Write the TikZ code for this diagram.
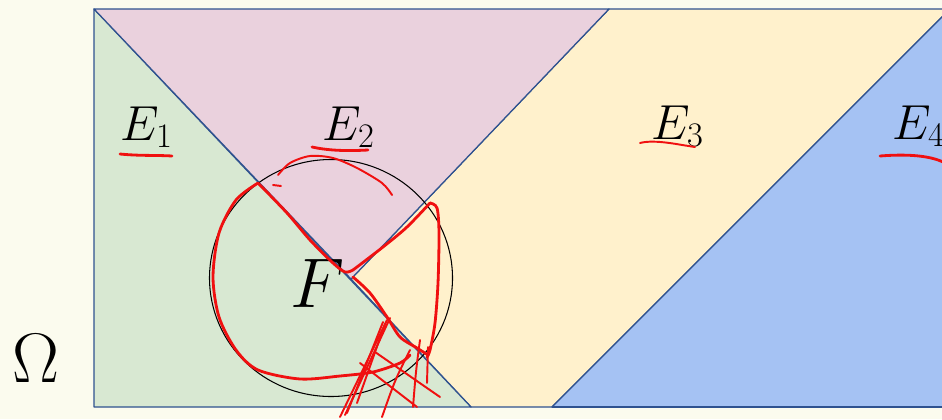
\RequirePackage{fix-cm}
\documentclass[tikz,border=0pt]{standalone}
\usepackage{tikz}
\usetikzlibrary{positioning}
\definecolor{slidebg}{HTML}{FBFBEE}
\definecolor{edgeblue}{HTML}{2F528F}
\definecolor{regiongreen}{HTML}{D8E8D2}
\definecolor{regionpink}{HTML}{EAD1DD}
\definecolor{regionyellow}{HTML}{FFF1CC}
\definecolor{regionblue}{HTML}{A5C2F3}
\definecolor{inkred}{HTML}{F01010}
\tikzset{
  region/.style={fill=#1, draw=edgeblue, line width=0.7pt, line join=round},
  setlabel/.style={anchor=base west, inner sep=0pt,
                   font=\fontsize{28}{30}\selectfont},
  biglabel/.style={inner sep=0pt, font=\fontsize{40}{44}\selectfont},
  ink/.style={draw=inkred, line width=1.6pt, line cap=round, line join=round},
  inkthin/.style={draw=inkred, line width=1.1pt, line cap=round}
}
\begin{document}
\begin{tikzpicture}[x=0.02cm, y=-0.02cm]
  \fill[slidebg] (0,0) rectangle (942,419);
  \useasboundingbox (0,0) rectangle (942,419);
  \clip (0,0) rectangle (942,419);

  % the four parts of Omega
  \draw[region=regionyellow] (609,9) -- (950,9) -- (552,407) -- (471,407)
    -- (351,279) -- cycle;
  \draw[region=regionblue] (950,9) -- (960,9) -- (960,407) -- (552,407) -- cycle;
  \draw[region=regiongreen] (94,9) -- (471,407) -- (94,407) -- cycle;
  \draw[region=regionpink] (94,9) -- (609,9) -- (351,279) -- cycle;
  \draw[edgeblue, line width=1.4pt] (552,407) -- (960,407);

  % the event F
  \draw[black, line width=0.6pt] (331,278) ellipse (121.5 and 118.5);

  \node[setlabel] (e1) at (120,140) {$E_1$};
  \node[setlabel] (e2) at (322,140) {$E_2$};
  \node[setlabel] (e3) at (651,139) {$E_3$};
  \node[setlabel] (e4) at (892,139) {$E_4$};
  \node[biglabel] (f) at (318,283) {$F$};
  \node[biglabel] (omega) at (36,358) {$\Omega$};

  % red pen marks
  \draw[ink] (120,154) .. controls (140,156) and (155,155) .. (172,156);
  \draw[ink] (312,147) .. controls (330,151) and (350,151) .. (368,150);
  \draw[inkthin] (640,143) .. controls (655,139) and (680,145) .. (695,147);
  \draw[ink] (880,156) .. controls (905,154) and (930,155) .. (945,163);

  \draw[inkthin] plot[smooth] coordinates {(392,195) (382,183) (357,168)
    (333,158) (310,156) (290,163) (278,175)};
  \draw[inkthin] (273,185) -- (281,186);
  \draw[ink] plot[smooth] coordinates {(258,183) (236,200) (219,233)
    (213,277) (219,317) (236,350) (258,370) (300,379) (340,376) (373,372)
    (400,363) (410,355)};
  \draw[ink] plot[smooth] coordinates {(258,183) (287,213) (310,240)
    (333,263) (345,272) (353,270)};
  \draw[ink] plot[smooth] coordinates {(353,270) (383,247) (407,227) (430,203)};
  \draw[ink] plot[smooth] coordinates {(430,203) (437,208) (439,233)
    (438,283) (435,323) (430,350) (427,357)};
  \draw[ink] plot[smooth] coordinates {(353,277) (370,293) (387,317)
    (400,337) (417,348) (428,355)};

  \draw[inkthin] (387,320) -- (340,417);
  \draw[inkthin] (383,322) -- (347,413);
  \draw[inkthin] (385,324) -- (357,403);
  \draw[inkthin] (390,318) -- (345,415);
  \draw[inkthin] (375,352) -- (440,397);
  \draw[inkthin] (360,363) -- (417,407);
  \draw[inkthin] (420,340) .. controls (416,370) .. (413,407);
  \draw[inkthin] (410,350) .. controls (395,380) .. (382,417);
  \draw[inkthin] (428,347) -- (427,383);
\end{tikzpicture}
\end{document}
